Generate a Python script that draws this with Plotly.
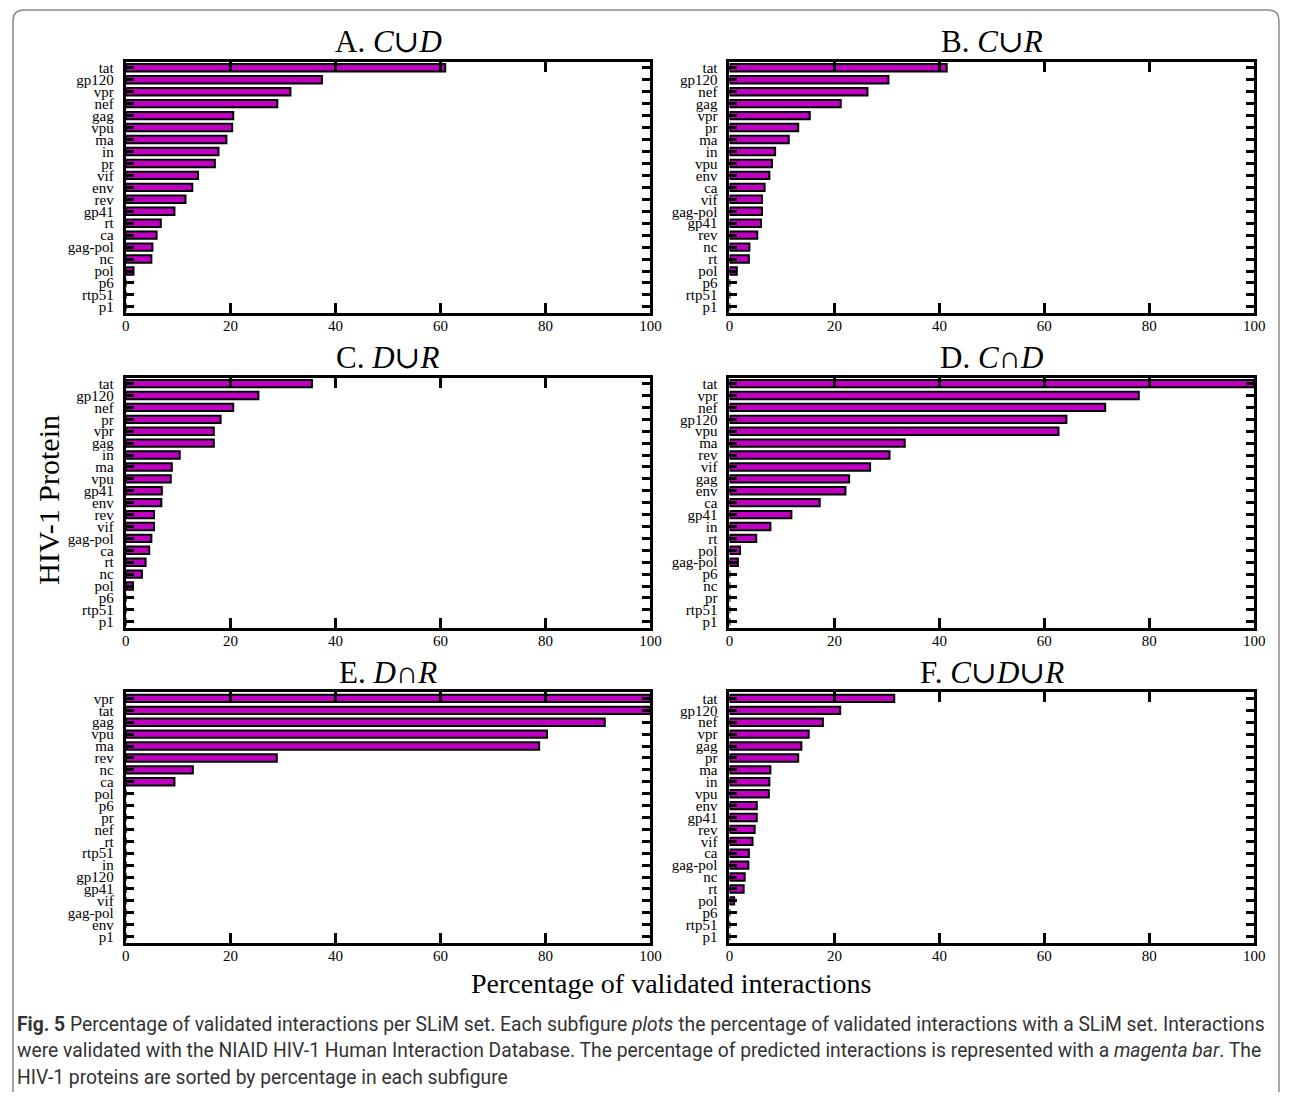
import plotly.graph_objects as go

# ---------------- data ----------------
a_labels = ["tat", "gp120", "vpr", "nef", "gag", "vpu", "ma", "in", "pr", "vif", "env", "rev",
            "gp41", "rt", "ca", "gag-pol", "nc", "pol", "p6", "rtp51", "p1"]
a_values = [60.9, 37.4, 31.4, 28.9, 20.5, 20.3, 19.2, 17.7, 17.0, 13.8, 12.7, 11.4,
            9.3, 6.7, 5.9, 5.1, 4.9, 1.5, 0, 0, 0]

b_labels = ["tat", "gp120", "nef", "gag", "vpr", "pr", "ma", "in", "vpu", "env", "ca", "vif",
            "gag-pol", "gp41", "rev", "nc", "rt", "pol", "p6", "rtp51", "p1"]
b_values = [41.4, 30.3, 26.3, 21.2, 15.3, 13.1, 11.3, 8.7, 8.1, 7.6, 6.7, 6.2,
            6.2, 6.0, 5.3, 3.8, 3.7, 1.4, 0, 0, 0]

c_labels = ["tat", "gp120", "nef", "pr", "vpr", "gag", "in", "ma", "vpu", "gp41", "env", "rev",
            "vif", "gag-pol", "ca", "rt", "nc", "pol", "p6", "rtp51", "p1"]
c_values = [35.5, 25.3, 20.5, 18.1, 16.8, 16.8, 10.3, 8.8, 8.6, 6.9, 6.8, 5.4,
            5.4, 4.9, 4.5, 3.8, 3.1, 1.4, 0, 0, 0]

d_labels = ["tat", "vpr", "nef", "gp120", "vpu", "ma", "rev", "vif", "gag", "env", "ca", "gp41",
            "in", "rt", "pol", "gag-pol", "p6", "nc", "pr", "rtp51", "p1"]
d_values = [100, 78.0, 71.6, 64.2, 62.7, 33.4, 30.5, 26.8, 22.8, 22.1, 17.2, 11.8,
            7.8, 5.1, 2.0, 1.6, 0, 0, 0, 0, 0]

e_labels = ["vpr", "tat", "gag", "vpu", "ma", "rev", "nc", "ca", "pol", "p6", "pr", "nef",
            "rt", "rtp51", "in", "gp120", "gp41", "vif", "gag-pol", "env", "p1"]
e_values = [100, 100, 91.3, 80.3, 78.8, 28.8, 12.8, 9.3, 0, 0, 0, 0,
            0, 0, 0, 0, 0, 0, 0, 0, 0]

f_labels = ["tat", "gp120", "nef", "vpr", "gag", "pr", "ma", "in", "vpu", "env", "gp41", "rev",
            "vif", "ca", "gag-pol", "nc", "rt", "pol", "p6", "rtp51", "p1"]
f_values = [31.4, 21.1, 17.8, 15.1, 13.7, 13.1, 7.8, 7.6, 7.5, 5.2, 5.2, 4.8,
            4.4, 3.7, 3.6, 2.9, 2.7, 0.9, 0, 0, 0]

panel_titles = ["A. <i>C</i>\u222a<i>D</i>", "B. <i>C</i>\u222a<i>R</i>",
                "C. <i>D</i>\u222a<i>R</i>", "D. <i>C</i>\u2229<i>D</i>",
                "E. <i>D</i>\u2229<i>R</i>", "F. <i>C</i>\u222a<i>D</i>\u222a<i>R</i>"]
x_ticks = [0, 20, 40, 60, 80, 100]

y_title = "HIV-1 Protein"
x_title = "Percentage of validated interactions"
caption_lines = [
    "<b>Fig. 5</b> Percentage of validated interactions per SLiM set. Each subfigure <i>plots</i> the percentage of validated interactions with a SLiM set. Interactions",
    "were validated with the NIAID HIV-1 Human Interaction Database. The percentage of predicted interactions is represented with a <i>magenta bar</i>. The",
    "HIV-1 proteins are sorted by percentage in each subfigure",
]

# ---------------- layout geometry (pixels, in page coordinates) ----------------
OFF = 8                      # browser body margin
W, H = 1293 - 2 * OFF, 1100 - 2 * OFF
cols = [(123, 654), (734, 1265)]
rows = [(60, 312), (377, 628), (693, 944)]


def fx(x):
    return (x - OFF) / W


def fy(y):
    return 1 - (y - OFF) / H


panels = [(a_labels, a_values), (b_labels, b_values), (c_labels, c_values),
          (d_labels, d_values), (e_labels, e_values), (f_labels, f_values)]

SERIF = "Liberation Serif, DejaVu Serif, Times New Roman, serif"
fig = go.Figure()
layout = dict(
    width=W, height=H,
    margin=dict(l=0, r=0, t=0, b=0),
    paper_bgcolor="white", plot_bgcolor="white",
    showlegend=False,
)
annotations = []
for i, (labels, values) in enumerate(panels):
    r, c = divmod(i, 2)
    x0, x1 = cols[c]
    y0, y1 = rows[r]
    n = i + 1
    xa = "xaxis" if n == 1 else f"xaxis{n}"
    ya = "yaxis" if n == 1 else f"yaxis{n}"
    xr = "x" if n == 1 else f"x{n}"
    yr = "y" if n == 1 else f"y{n}"
    fig.add_trace(go.Bar(
        x=values, y=labels, orientation="h", xaxis=xr, yaxis=yr,
        marker=dict(color="#C000C0", line=dict(color="black", width=2)),
        width=0.62,
    ))
    layout[xa] = dict(
        domain=[fx(x0), fx(x1)], anchor=yr, range=[0, 100],
        tickmode="array", tickvals=x_ticks, ticks="inside", ticklen=10, tickwidth=2.5, tickcolor="black",
        showline=True, linewidth=3, linecolor="black", mirror="allticks",
        showgrid=False, zeroline=False, ticklabelstandoff=-3,
        tickfont=dict(family=SERIF, size=15, color="black"),
        layer="above traces",
    )
    layout[ya] = dict(
        domain=[fy(y1), fy(y0)], anchor=xr, type="category",
        categoryorder="array", categoryarray=labels,
        range=[len(labels) - 0.5, -0.5],
        tickmode="array", tickvals=labels, ticktext=labels,
        ticks="inside", ticklen=8, tickwidth=2.5, tickcolor="black",
        showline=True, linewidth=3, linecolor="black", mirror="allticks",
        showgrid=False, zeroline=False, ticklabelstandoff=6,
        tickfont=dict(family=SERIF, size=15, color="black"),
        layer="above traces",
    )
    annotations.append(dict(
        text=panel_titles[i], x=fx((x0 + x1) / 2), y=fy(y0 - 20),
        xref="paper", yref="paper", xanchor="center", yanchor="middle",
        showarrow=False, font=dict(family=SERIF, size=31, color="black"),
    ))

annotations.append(dict(
    text=y_title, x=fx(45), y=fy(500), xref="paper", yref="paper",
    xanchor="center", yanchor="middle", textangle=-90, showarrow=False,
    font=dict(family=SERIF, size=30, color="black"),
))
annotations.append(dict(
    text=x_title, x=fx(675), y=fy(985), xref="paper", yref="paper",
    xanchor="center", yanchor="middle", showarrow=False,
    font=dict(family=SERIF, size=28, color="black"),
))
for k, line in enumerate(caption_lines):
    annotations.append(dict(
        text=line, x=fx(11), y=fy(1026 + 26.5 * k), xref="paper", yref="paper",
        xanchor="left", yanchor="middle", align="left", showarrow=False,
        font=dict(family="Roboto, Noto Sans, sans-serif", size=19.3, color="#333333"),
    ))
layout["annotations"] = annotations


# outer rounded frame
def px(x, y):
    return f"{fx(x):.5f},{fy(y):.5f}"


frame_path = ("M " + px(9, 1110) + " L " + px(9, 19) + " Q " + px(9, 8) + " " + px(20, 8) +
              " L " + px(1279, 8) + " Q " + px(1290, 8) + " " + px(1290, 19) + " L " + px(1290, 1110))
layout["shapes"] = [dict(type="path", path=frame_path, xref="paper", yref="paper",
                         line=dict(color="#8a8a8a", width=1.5))]

fig.update_layout(**layout)
fig.write_html("out.html")
